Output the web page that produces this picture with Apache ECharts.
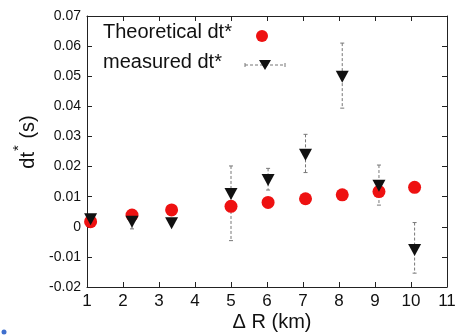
<!DOCTYPE html>
<html>
<head>
<meta charset="utf-8">
<script src="https://cdn.jsdelivr.net/npm/echarts@6/dist/echarts.min.js"></script>
<style>
html,body{margin:0;padding:0;background:#fff;}
#chart{width:459px;height:335px;}
</style>
</head>
<body>
<div id="chart"></div>
<script>
// Data
const distanceKm = [1.1, 2.25, 3.35, 5.0, 6.03, 7.07, 8.09, 9.11, 10.1];
const theoreticalDt = [0.0017, 0.0039, 0.0056, 0.0068, 0.0081, 0.0093, 0.0106, 0.0117, 0.0131];
const measuredDt = [0.0025, 0.0017, 0.0012, 0.0109, 0.0155, 0.0239, 0.0498, 0.0136, -0.0077];
const measuredLow = [0.0020, -0.0007, 0.0008, -0.0046, 0.0122, 0.0180, 0.0394, 0.0072, -0.0154];
const measuredHigh = [0.0032, 0.0035, 0.0016, 0.0202, 0.0194, 0.0307, 0.0610, 0.0205, 0.0014];
const xTickLabels = ['1','2','3','4','5','6','7','8','9','10','11'];
const yTickLabels = ['-0.02','-0.01','0','0.01','0.02','0.03','0.04','0.05','0.06','0.07'];
const legendNames = ['Theoretical dt*', 'measured dt*'];

const FONT = '"Liberation Sans", Arial, Helvetica, sans-serif';
const chart = echarts.init(document.getElementById('chart'), null, {renderer: 'canvas'});

const theoryData = distanceKm.map((x, i) => [x, theoreticalDt[i]]);
const measData = distanceKm.map((x, i) => [x, measuredDt[i]]);
const errData = distanceKm.map((x, i) => [x, measuredLow[i], measuredHigh[i]]);

const axisLineStyle = {color: '#222', width: 1};
const yLabelFor = v => {
  const idx = Math.round((v + 0.02) / 0.01);
  return yTickLabels[idx] !== undefined ? yTickLabels[idx] : '';
};
const xLabelFor = v => {
  const idx = Math.round(v - 1);
  return xTickLabels[idx] !== undefined ? xTickLabels[idx] : '';
};

const option = {
  animation: false,
  backgroundColor: '#fff',
  grid: {left: 87, right: 12, top: 16, bottom: 48, containLabel: false},
  xAxis: [{
    type: 'value', min: 1, max: 11, interval: 1, position: 'bottom',
    axisLine: {show: true, onZero: false, lineStyle: axisLineStyle},
    axisTick: {show: true, inside: true, length: 5, lineStyle: axisLineStyle},
    axisLabel: {formatter: xLabelFor, fontSize: 17, color: '#111', margin: 6, fontFamily: FONT},
    splitLine: {show: false}
  }, {
    type: 'value', min: 1, max: 11, interval: 1, position: 'top',
    axisLine: {show: true, onZero: false, lineStyle: axisLineStyle},
    axisTick: {show: true, inside: true, length: 5, lineStyle: axisLineStyle},
    axisLabel: {show: false}, splitLine: {show: false}
  }],
  yAxis: [{
    type: 'value', min: -0.02, max: 0.07, interval: 0.01, position: 'left',
    axisLine: {show: true, onZero: false, lineStyle: axisLineStyle},
    axisTick: {show: true, inside: true, length: 5, lineStyle: axisLineStyle},
    axisLabel: {formatter: yLabelFor, fontSize: 14, color: '#111', margin: 6, fontFamily: FONT},
    splitLine: {show: false}
  }, {
    type: 'value', min: -0.02, max: 0.07, interval: 0.01, position: 'right',
    axisLine: {show: true, onZero: false, lineStyle: axisLineStyle},
    axisTick: {show: true, inside: true, length: 5, lineStyle: axisLineStyle},
    axisLabel: {show: false}, splitLine: {show: false}
  }],
  graphic: [
    {type: 'text', left: 103, top: 22, style: {text: legendNames[0], fontSize: 20, fill: '#111', fontFamily: FONT}},
    {type: 'circle', shape: {cx: 262, cy: 36, r: 6}, style: {fill: '#ee1111'}},
    {type: 'text', left: 103, top: 52, style: {text: legendNames[1], fontSize: 20, fill: '#111', fontFamily: FONT}},
    {type: 'line', shape: {x1: 245, y1: 65, x2: 285, y2: 65}, style: {stroke: '#777', lineWidth: 1, lineDash: [3, 2]}},
    {type: 'line', shape: {x1: 245, y1: 63, x2: 245, y2: 67}, style: {stroke: '#777', lineWidth: 1}},
    {type: 'line', shape: {x1: 285, y1: 63, x2: 285, y2: 67}, style: {stroke: '#777', lineWidth: 1}},
    {type: 'polygon', shape: {points: [[259, 60], [271, 60], [265, 70]]}, style: {fill: '#111'}},
    {type: 'text', x: 28, y: 142, rotation: Math.PI / 2,
      style: {text: '{a|dt}{b|*}{a| (s)}', align: 'center', verticalAlign: 'middle', fill: '#111', fontFamily: FONT,
        rich: {a: {fontSize: 20, lineHeight: 34, fontFamily: FONT, fill: '#111'},
               b: {fontSize: 15, lineHeight: 34, verticalAlign: 'top', fontFamily: FONT, fill: '#111', padding: [0, 1, 0, 1]}}}},
    {type: 'text', x: 272, y: 322,
      style: {text: '\u0394 R (km)', align: 'center', verticalAlign: 'middle', fontSize: 20, fill: '#111', fontFamily: FONT}},
    {type: 'circle', shape: {cx: 4, cy: 332, r: 2.5}, style: {fill: '#3f6fce'}}
  ],
  series: [{
    name: 'err', type: 'custom', z: 1,
    data: errData,
    renderItem: function (params, api) {
      const x = api.value(0);
      const pHi = api.coord([x, api.value(2)]);
      const pLo = api.coord([x, api.value(1)]);
      const cw = 2;
      const st = {stroke: '#777', lineWidth: 1};
      return {type: 'group', children: [
        {type: 'line', shape: {x1: pHi[0], y1: pHi[1], x2: pLo[0], y2: pLo[1]}, style: {stroke: '#777', lineWidth: 1, lineDash: [3, 2]}},
        {type: 'line', shape: {x1: pHi[0] - cw, y1: pHi[1], x2: pHi[0] + cw, y2: pHi[1]}, style: st},
        {type: 'line', shape: {x1: pLo[0] - cw, y1: pLo[1], x2: pLo[0] + cw, y2: pLo[1]}, style: st}
      ]};
    }
  }, {
    name: legendNames[0], type: 'scatter', z: 2,
    data: theoryData, symbol: 'circle', symbolSize: 13,
    itemStyle: {color: '#ee1111', opacity: 1}
  }, {
    name: legendNames[1], type: 'scatter', z: 3,
    data: measData, symbol: 'triangle', symbolRotate: 180, symbolSize: [13, 12],
    itemStyle: {color: '#111', opacity: 1}
  }]
};
chart.setOption(option);
</script>
</body>
</html>
